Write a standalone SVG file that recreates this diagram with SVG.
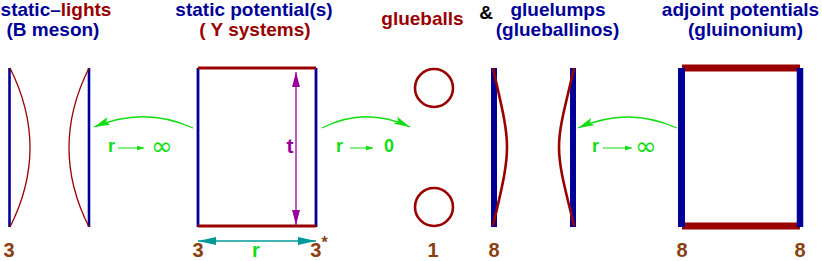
<svg xmlns="http://www.w3.org/2000/svg" width="822" height="261" viewBox="0 0 822 261">
<defs>
<style>
.t{font-family:"Liberation Sans",Arial,sans-serif;font-weight:bold;font-size:19px;text-anchor:middle}
.b{fill:#000099}.r{fill:#990000}.k{fill:#000}
.n{font-family:"Liberation Sans",Arial,sans-serif;font-weight:bold;font-size:20px;fill:#8a4010;text-anchor:middle}
.g{font-family:"Liberation Sans",Arial,sans-serif;font-weight:bold;font-size:18px;fill:#11dd11}
.inf{font-family:"DejaVu Sans",sans-serif;font-size:26px;fill:#11dd11}
.bl{stroke:#000099;fill:none}
.rd{stroke:#990000;fill:none}
.arc{stroke:#11dd11;stroke-width:1.3;fill:none}
.sm{stroke:#11dd11;stroke-width:1}
</style>
<marker id="ga" markerUnits="userSpaceOnUse" markerWidth="17" markerHeight="9" refX="16" refY="4" orient="auto"><path d="M0,0 L16,4 L0,8 L3,4 z" fill="#11dd11"/></marker>
<marker id="sa" markerUnits="userSpaceOnUse" markerWidth="8" markerHeight="6" refX="7" refY="2.5" orient="auto"><path d="M0,0 L7,2.5 L0,5 z" fill="#11dd11"/></marker>
<marker id="pa" markerUnits="userSpaceOnUse" markerWidth="16" markerHeight="9" refX="15" refY="4" orient="auto-start-reverse"><path d="M0,0 L15,4 L0,8 z" fill="#990099"/></marker>
<marker id="ta" markerUnits="userSpaceOnUse" markerWidth="19" markerHeight="9" refX="18" refY="4" orient="auto-start-reverse"><path d="M0,0 L18,4 L0,8 z" fill="#009999"/></marker>
</defs>
<rect width="822" height="261" fill="#fff"/>

<g id="static-lights">
<text class="t" x="56" y="16"><tspan class="b">static–</tspan><tspan class="r">lights</tspan></text>
<text class="t b" x="53" y="36">(B meson)</text>
<line class="bl" x1="9.5" y1="68" x2="9.5" y2="227" stroke-width="2.6"/>
<line class="bl" x1="89" y1="68" x2="89" y2="227" stroke-width="2.6"/>
<path class="rd" d="M10,68 Q50,148 10,227" stroke-width="1.3"/>
<path class="rd" d="M89,68 Q49,148 89,227" stroke-width="1.3"/>
<text class="n" x="9" y="256.5">3</text>
</g>

<g id="static-potential">
<text class="t b" x="254" y="16">static potential(s)</text>
<text class="t r" x="255" y="36">( Y systems)</text>
<line class="bl" x1="198" y1="68" x2="198" y2="227" stroke-width="2.8"/>
<line class="bl" x1="316" y1="68" x2="316" y2="227" stroke-width="2.8"/>
<line class="rd" x1="198" y1="68" x2="316" y2="68" stroke-width="3.2"/>
<line class="rd" x1="198" y1="226" x2="316" y2="226" stroke-width="3.2"/>
<line x1="296" y1="72" x2="296" y2="225" stroke="#990099" stroke-width="1.3" marker-start="url(#pa)" marker-end="url(#pa)"/>
<text x="290" y="153" font-family="Liberation Sans,Arial,sans-serif" font-weight="bold" font-size="21" fill="#990099" text-anchor="middle">t</text>
<line x1="198" y1="241" x2="316" y2="241" stroke="#009999" stroke-width="1.5" marker-start="url(#ta)" marker-end="url(#ta)"/>
<text x="256" y="256.5" font-family="Liberation Sans,Arial,sans-serif" font-weight="bold" font-size="20" fill="#11dd11" text-anchor="middle">r</text>
<text class="n" x="198" y="256.5">3</text>
<text class="n" x="319" y="256.5">3<tspan font-size="16" dy="-9">*</tspan></text>
</g>

<g id="glueballs">
<text class="t r" x="422.5" y="25">glueballs</text>
<circle class="rd" cx="434" cy="88" r="19" stroke-width="2.6"/>
<circle class="rd" cx="434" cy="207" r="19" stroke-width="2.6"/>
<text class="n" x="433" y="256.5">1</text>
</g>

<text class="t k" x="486" y="19">&amp;</text>

<g id="gluelumps">
<text class="t b" x="558" y="16">gluelumps</text>
<text class="t b" x="557.5" y="36">(glueballinos)</text>
<line class="bl" x1="494" y1="68" x2="494" y2="227" stroke-width="6"/>
<line class="bl" x1="573" y1="68" x2="573" y2="227" stroke-width="6"/>
<path class="rd" d="M493,68 C500,100 507,125 507,147 C507,170 500,195 493,226" stroke-width="2.6"/>
<path class="rd" d="M574,68 C567,100 559,125 559,147 C559,170 567,195 574,226" stroke-width="2.6"/>
<text class="n" x="494" y="256.5">8</text>
</g>

<g id="adjoint-potentials">
<text class="t b" x="740.5" y="16">adjoint potentials</text>
<text class="t b" x="745.5" y="36">(gluinonium)</text>
<line class="rd" x1="682" y1="68" x2="800" y2="68" stroke-width="7"/>
<line class="rd" x1="682" y1="226" x2="800" y2="226" stroke-width="7"/>
<line class="bl" x1="681.5" y1="68" x2="681.5" y2="227" stroke-width="7"/>
<line class="bl" x1="800" y1="68" x2="800" y2="227" stroke-width="6.5"/>
<text class="n" x="682" y="256.5">8</text>
<text class="n" x="800" y="256.5">8</text>
</g>

<g id="connectors">
<path class="arc" d="M193,128 Q145,106 94,127" marker-end="url(#ga)"/>
<path class="arc" d="M322,128 Q365,106 410,127" marker-end="url(#ga)"/>
<path class="arc" d="M677,128 Q628,106 578,128" marker-end="url(#ga)"/>
<text class="g" x="108" y="151.5">r</text>
<line class="sm" x1="118" y1="148" x2="144" y2="148" marker-end="url(#sa)"/>
<text class="inf" x="151" y="155">∞</text>
<text class="g" x="336" y="151.5">r</text>
<line class="sm" x1="350" y1="148" x2="373" y2="148" marker-end="url(#sa)"/>
<text class="g" x="384" y="152" font-size="19">0</text>
<text class="g" x="592" y="151.5">r</text>
<line class="sm" x1="603" y1="148" x2="632" y2="148" marker-end="url(#sa)"/>
<text class="inf" x="635" y="155">∞</text>
</g>
</svg>
